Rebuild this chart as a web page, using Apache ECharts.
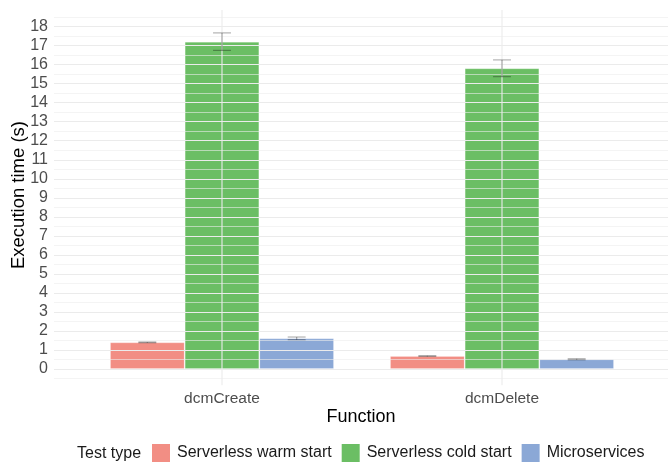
<!DOCTYPE html>
<html>
<head>
<meta charset="utf-8">
<script src="https://cdn.jsdelivr.net/npm/echarts@6/dist/echarts.min.js"></script>
<style>html,body{margin:0;padding:0;background:#fff;}#chart{width:668px;height:464px;}</style>
</head>
<body>
<div id="chart"></div>
<script>
const categories = ['dcmCreate', 'dcmDelete'];
const seriesNames = ['Serverless warm start', 'Serverless cold start', 'Microservices'];
const warmMeans = [1.40, 0.68];
const warmErr = [0.02, 0.02];
const coldMeans = [17.21, 15.81];
const coldErr = [0.46, 0.44];
const microMeans = [1.61, 0.51];
const microErr = [0.07, 0.03];
const colors = ['#F28E84', '#6BBE64', '#8BA8D6'];
const yMin = -1, yMax = 19;          // axis scale (ticks every 1, labels 0..18)
const panelMin = -0.85, panelMax = 18.87; // panel limits for vertical grid lines

const FONT = "'Liberation Sans', Arial, sans-serif";
const means = [warmMeans, coldMeans, microMeans];
const errs = [warmErr, coldErr, microErr];

const errData = [];
means.forEach((m, s) => m.forEach((v, c) => errData.push([c, s, v - errs[s][c], v + errs[s][c]])));

const chart = echarts.init(document.getElementById('chart'), null, {renderer: 'canvas'});
const gridTop = 7.6, gridH = 380.4;

const option = {
  backgroundColor: '#ffffff',
  animation: false,
  textStyle: {fontFamily: FONT},
  grid: [
    {left: 54, right: 0, top: gridTop, height: gridH},
    {left: 82, width: 560, top: gridTop, height: gridH}
  ],
  xAxis: [
    {gridIndex: 0, type: 'value', min: 0, max: 1, show: false},
    {gridIndex: 1, type: 'category', data: categories,
      axisLine: {show: false}, axisTick: {show: false}, splitLine: {show: false},
      axisLabel: {color: '#4D4D4D', fontSize: 15.5, margin: 3, fontFamily: FONT}}
  ],
  yAxis: [
    {gridIndex: 0, type: 'value', min: yMin, max: yMax, interval: 1, z: 3,
      axisLine: {show: false}, axisTick: {show: false},
      axisLabel: {showMinLabel: false, showMaxLabel: false, color: '#4D4D4D', fontSize: 16, margin: 6, fontFamily: FONT},
      splitLine: {show: true, showMinLine: false, showMaxLine: false, lineStyle: {color: '#EBEBEB', width: 1.1}},
      minorTick: {show: false, splitNumber: 2},
      minorSplitLine: {show: true, lineStyle: {color: '#EDEDED', width: 0.6}}},
    {gridIndex: 1, type: 'value', min: yMin, max: yMax, show: false}
  ],
  legend: {
    data: seriesNames, left: 152, top: 444, padding: 0, itemWidth: 18, itemHeight: 18, itemGap: 10,
    icon: 'rect', itemStyle: {borderWidth: 0},
    textStyle: {fontSize: 16, color: '#1A1A1A', fontFamily: FONT, padding: [0, 0, 0, 2]}
  },
  graphic: [
    {type: 'text', x: 18.5, y: 195, rotation: Math.PI / 2,
      style: {text: 'Execution time (s)', fontSize: 18.5, fontFamily: FONT, fill: '#000', align: 'center', verticalAlign: 'middle'}},
    {type: 'text', x: 361, y: 417,
      style: {text: 'Function', fontSize: 18, fontFamily: FONT, fill: '#000', align: 'center', verticalAlign: 'middle'}},
    {type: 'text', x: 77, y: 454,
      style: {text: 'Test type', fontSize: 16, fontFamily: FONT, fill: '#1A1A1A', align: 'left', verticalAlign: 'middle'}}
  ],
  series: [
    ...seriesNames.map((n, s) => ({
      name: n, type: 'bar', xAxisIndex: 1, yAxisIndex: 1, data: means[s],
      barCategoryGap: '20%', barGap: '0%', z: 2,
      itemStyle: {color: colors[s], borderColor: 'rgba(255,255,255,0.2)', borderWidth: 1}
    })),
    {
      type: 'custom', xAxisIndex: 1, yAxisIndex: 1, z: 3, silent: true,
      data: categories.map((c, i) => [i]),
      renderItem: (params, api) => {
        const p0 = api.coord([api.value(0), panelMin]);
        const p1 = api.coord([api.value(0), panelMax]);
        return {type: 'line', shape: {x1: p0[0], y1: p0[1], x2: p1[0], y2: p1[1]},
          style: {stroke: '#EBEBEB', lineWidth: 1.1}};
      }
    },
    {
      type: 'custom', xAxisIndex: 1, yAxisIndex: 1, z: 4, silent: true,
      data: errData,
      renderItem: (params, api) => {
        const c = api.value(0), s = api.value(1);
        const bandW = api.size([1, 0])[0];
        const barW = bandW * 0.8 / 3;
        const x = api.coord([c, 0])[0] + (s - 1) * barW;
        const yl = api.coord([c, api.value(2)])[1];
        const yh = api.coord([c, api.value(3)])[1];
        const h = barW * 0.12;
        const st = {stroke: 'rgba(0,0,0,0.3)', lineWidth: 1.2};
        return {type: 'group', children: [
          {type: 'line', shape: {x1: x, y1: yl, x2: x, y2: yh}, style: st},
          {type: 'line', shape: {x1: x - h, y1: yl, x2: x + h, y2: yl}, style: st},
          {type: 'line', shape: {x1: x - h, y1: yh, x2: x + h, y2: yh}, style: st}
        ]};
      }
    }
  ]
};
chart.setOption(option);
</script>
</body>
</html>
